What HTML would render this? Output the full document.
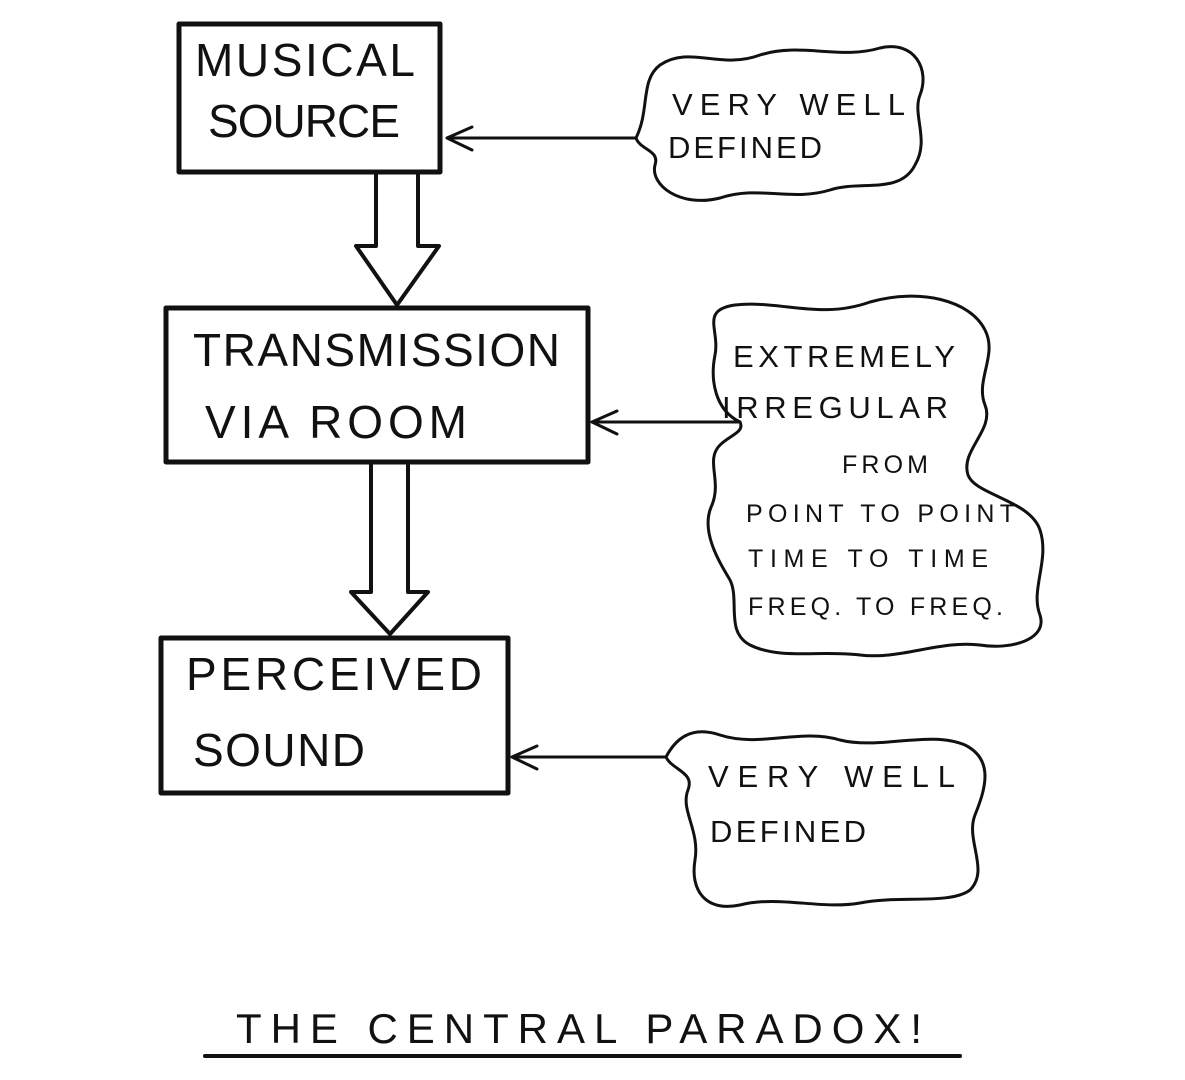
<!DOCTYPE html>
<html><head><meta charset="utf-8"><style>
html,body{margin:0;padding:0;background:#fff;}
svg{display:block;}
text{font-family:"Liberation Sans",sans-serif;fill:#111;}
</style></head><body>
<svg width="1185" height="1080" viewBox="0 0 1185 1080" xmlns="http://www.w3.org/2000/svg">
<g fill="none" stroke="#111" stroke-linejoin="round" stroke-linecap="round">
  <rect x="179" y="24" width="261" height="148" stroke-width="5"/>
  <rect x="166" y="308" width="422" height="154" stroke-width="5"/>
  <rect x="161" y="638" width="347" height="155" stroke-width="5"/>
  <path d="M376 174 L376 246 L356 246 L397 305 L439 246 L418 246 L418 174" stroke-width="4"/>
  <path d="M371 464 L371 592 L351 592 L390 634 L428 592 L408 592 L408 464" stroke-width="4"/>
  <path d="M636 138 L447 138 M472 127 L447 138 L472 150" stroke-width="3"/>
  <path d="M740 422 L592 422 M617 411 L592 422 L617 434" stroke-width="3"/>
  <path d="M666 757 L512 757 M537 746 L512 757 L537 769" stroke-width="3"/>
  <path d="M636 138 C650 110 640 80 660 65 C690 45 720 70 760 55 C800 42 840 60 880 48 C915 40 930 70 920 95 C912 115 930 140 915 165 C900 195 860 180 830 190 C790 202 760 185 720 198 C680 208 650 185 655 165 C660 150 640 150 636 138 Z" stroke-width="3"/>
  <path d="M740 422 C715 410 710 380 715 355 C720 330 700 310 735 305 C780 300 820 320 870 302 C920 288 970 300 985 330 C998 355 975 380 985 405 C995 430 960 450 968 475 C975 495 1030 500 1040 530 C1050 560 1030 590 1040 615 C1048 640 1010 650 980 645 C940 640 900 660 860 655 C820 650 780 660 750 645 C725 632 740 600 730 580 C718 560 700 530 712 505 C722 480 705 460 720 445 C730 435 745 432 740 422 Z" stroke-width="3"/>
  <path d="M666 757 C675 740 690 725 720 735 C760 748 800 728 840 740 C880 750 930 730 965 745 C995 760 985 790 975 815 C965 840 990 870 970 890 C950 905 900 895 860 903 C820 910 780 895 740 905 C705 912 690 890 695 860 C700 830 680 810 688 790 C695 772 672 770 666 757 Z" stroke-width="3"/>
  <line x1="205" y1="1056" x2="960" y2="1056" stroke-width="4"/>
</g>
<g font-size="46">
  <text x="195" y="76" textLength="220" lengthAdjust="spacing">MUSICAL</text>
  <text x="208" y="137" textLength="192" lengthAdjust="spacing">SOURCE</text>
  <text x="193" y="366" textLength="367" lengthAdjust="spacing">TRANSMISSION</text>
  <text x="205" y="438" textLength="262" lengthAdjust="spacing">VIA ROOM</text>
  <text x="186" y="690" textLength="296" lengthAdjust="spacing">PERCEIVED</text>
  <text x="193" y="766" textLength="172" lengthAdjust="spacing">SOUND</text>
</g>
<g font-size="31">
  <text x="672" y="115" textLength="233" lengthAdjust="spacing">VERY WELL</text>
  <text x="668" y="158" textLength="154" lengthAdjust="spacing">DEFINED</text>
  <text x="733" y="367" textLength="222" lengthAdjust="spacing">EXTREMELY</text>
  <text x="722" y="418" textLength="226" lengthAdjust="spacing">IRREGULAR</text>
  <text x="708" y="787" textLength="247" lengthAdjust="spacing">VERY WELL</text>
  <text x="710" y="842" textLength="156" lengthAdjust="spacing">DEFINED</text>
</g>
<g font-size="25">
  <text x="842" y="473" textLength="86" lengthAdjust="spacing">FROM</text>
  <text x="746" y="522" textLength="269" lengthAdjust="spacing">POINT TO POINT</text>
  <text x="748" y="567" textLength="240" lengthAdjust="spacing">TIME TO TIME</text>
  <text x="748" y="615" textLength="255" lengthAdjust="spacing">FREQ. TO FREQ.</text>
</g>
<text x="236" y="1043" font-size="42" textLength="686" lengthAdjust="spacing">THE CENTRAL PARADOX!</text>
</svg>
</body></html>
